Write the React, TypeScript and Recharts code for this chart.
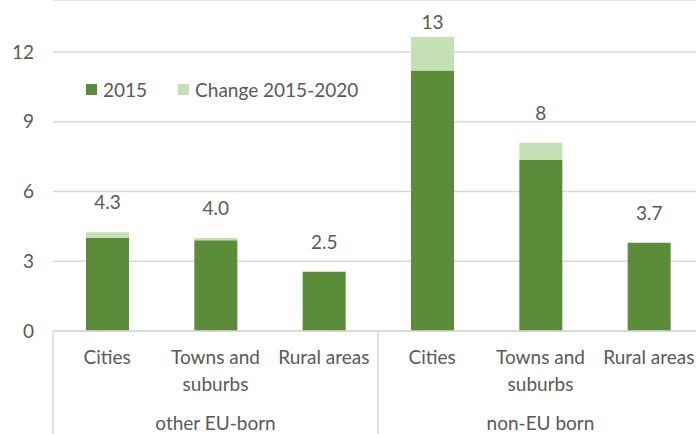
import React from 'react';
import { BarChart, Bar, XAxis, YAxis, CartesianGrid, Legend, LabelList } from 'recharts';

const categories = ['Cities', 'Towns and\nsuburbs', 'Rural areas', 'Cities', 'Towns and\nsuburbs', 'Rural areas'];
const groups = ['other EU-born', 'other EU-born', 'other EU-born', 'non-EU born', 'non-EU born', 'non-EU born'];
const values2015 = [4.0, 3.9, 2.55, 11.2, 7.35, 3.8];
const change2015to2020 = [0.25, 0.1, 0, 1.45, 0.75, 0];
const topLabels = ['4.3', '4.0', '2.5', '13', '8', '3.7'];
const yTicks = [0, 3, 6, 9, 12];

const data = categories.map((c, i) => ({
  name: c,
  group: groups[i],
  base: values2015[i],
  change: change2015to2020[i],
  label: topLabels[i],
}));

const FONT = 'Lato, "Open Sans", sans-serif';
const FS = 19;
const TEXT = '#595959';
const GRID = '#d9d9d9';
const DARK = '#5b8c39';
const LIGHT = '#c5e0b4';

const CHART_W = 703;
const CHART_H = 434;
const LEFT = 53;
const AXIS_H = 103;
const BAND = (CHART_W - LEFT) / categories.length;

function CategoryTick(props: any) {
  const { x, y, payload, index } = props;
  const lines = String(payload.value).split('\n');
  const left = x - BAND / 2;
  const showSep = index === 0 || index === 3;
  return (
    <g>
      {lines.map((ln, k) => (
        <text key={k} x={x} y={y + 18 + k * 27} dy={7} textAnchor="middle" fill={TEXT} fontSize={FS} fontFamily={FONT}>
          {ln}
        </text>
      ))}
      {showSep && <line x1={left} y1={y - 8} x2={left} y2={CHART_H} stroke={GRID} strokeWidth={1.5} />}
      {index % 3 === 1 && (
        <text x={x} y={y + 84} dy={7} textAnchor="middle" fill={TEXT} fontSize={FS} fontFamily={FONT}>
          {groups[index]}
        </text>
      )}
    </g>
  );
}

// label above the stacked total, placed from the base bar geometry
function TopLabel(props: any) {
  const { x, y, width, height, index, value } = props;
  const perUnit = height / values2015[index];
  const totalTop = y - change2015to2020[index] * perUnit;
  const ty = Math.max(totalTop - 30, 22);
  return (
    <text x={x + width / 2} y={ty} dy={7} textAnchor="middle" fill={TEXT} fontSize={FS} fontFamily={FONT}>
      {value}
    </text>
  );
}

function LegendContent() {
  const items = [
    { name: '2015', color: DARK },
    { name: 'Change 2015-2020', color: LIGHT },
  ];
  return (
    <div style={{ display: 'flex', alignItems: 'center', fontFamily: FONT, fontSize: FS, color: TEXT }}>
      {items.map((it) => (
        <div key={it.name} style={{ display: 'flex', alignItems: 'center', marginRight: 31 }}>
          <span style={{ width: 11, height: 11, background: it.color, display: 'inline-block', marginRight: 6 }} />
          <span>{it.name}</span>
        </div>
      ))}
    </div>
  );
}

export default function App() {
  return (
    <div style={{ width: 696, height: 434, overflow: 'hidden', background: '#fff' }}>
      <style>{'body{margin:0}'}</style>
      <BarChart
        width={CHART_W}
        height={CHART_H}
        data={data}
        margin={{ top: 0, right: 0, bottom: 0, left: 0 }}
        barSize={43}
      >
        <CartesianGrid vertical={false} stroke={GRID} strokeWidth={1.5} />
        <XAxis
          dataKey="name"
          interval={0}
          height={AXIS_H}
          tickLine={false}
          axisLine={{ stroke: GRID, strokeWidth: 1.5 }}
          tick={<CategoryTick />}
        />
        <YAxis
          width={LEFT}
          domain={[0, 331 / 23.25]}
          ticks={yTicks}
          tickLine={false}
          axisLine={false}
          tickMargin={13}
          tick={{ fill: TEXT, fontSize: FS, fontFamily: FONT }}
        />
        <Legend
          verticalAlign="middle"
          align="center"
          layout="horizontal"
          content={<LegendContent />}
          wrapperStyle={{ position: 'absolute', top: 78, left: 86, width: 400 }}
        />
        <Bar dataKey="base" stackId="a" fill={DARK} isAnimationActive={false}>
          <LabelList dataKey="label" content={<TopLabel />} />
        </Bar>
        <Bar dataKey="change" stackId="a" fill={LIGHT} isAnimationActive={false} />
      </BarChart>
    </div>
  );
}
